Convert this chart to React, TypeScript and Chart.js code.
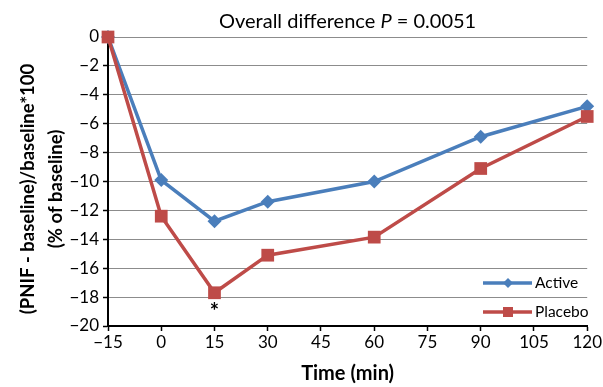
import React, { useEffect, useRef } from "react";
import { Chart, registerables } from "chart.js";

Chart.register(...registerables);

const times = [-15, 0, 15, 30, 60, 90, 120];
const activeValues = [0, -9.9, -12.75, -11.4, -10.0, -6.9, -4.8];
const placeboValues = [0, -12.4, -17.7, -15.1, -13.85, -9.1, -5.5];
const seriesNames = ["Active", "Placebo"];
const titleMain = "Overall difference ";
const titleItalic = "P";
const titleTail = " = 0.0051";
const yTitleLines = ["(PNIF - baseline)/baseline*100", "(% of baseline)"];
const xTitle = "Time (min)";
const starLabel = "*";
const starTime = 15;

const BLUE = "#4A7EBB";
const RED = "#BE4B48";
const FONT = "Lato, 'Open Sans', sans-serif";

export default function App() {
  const ref = useRef<HTMLCanvasElement | null>(null);
  useEffect(() => {
    document.body.style.margin = "0";
    const canvas = ref.current!;
    const decor = {
      id: "decor",
      afterDraw(chart: any) {
        const ctx = chart.ctx;
        const xs = chart.scales.x;
        const ys = chart.scales.y;
        const ca = chart.chartArea;
        ctx.save();
        ctx.fillStyle = "#000";
        // title
        const tf = `20px ${FONT}`;
        const tfi = `italic 20px ${FONT}`;
        ctx.font = tf;
        const w1 = ctx.measureText(titleMain).width;
        ctx.font = tfi;
        const w2 = ctx.measureText(titleItalic).width;
        ctx.font = tf;
        const w3 = ctx.measureText(titleTail).width;
        const tx = (ca.left + ca.right) / 2 - (w1 + w2 + w3) / 2;
        ctx.textBaseline = "middle";
        ctx.textAlign = "left";
        ctx.fillText(titleMain, tx, 22);
        ctx.font = tfi;
        ctx.fillText(titleItalic, tx + w1, 22);
        ctx.font = tf;
        ctx.fillText(titleTail, tx + w1 + w2, 22);
        // y title
        ctx.save();
        ctx.translate(28, 189);
        ctx.rotate(-Math.PI / 2);
        ctx.font = `bold 18.5px ${FONT}`;
        ctx.textAlign = "center";
        ctx.fillText(yTitleLines[0], 0, 0);
        ctx.fillText(yTitleLines[1], 0, 28);
        ctx.restore();
        // x title
        ctx.font = `bold 20px ${FONT}`;
        ctx.textAlign = "center";
        ctx.fillText(xTitle, (ca.left + ca.right) / 2, 374);
        // asterisk
        const idx = times.indexOf(starTime);
        ctx.font = `bold 22px ${FONT}`;
        ctx.fillText(starLabel, xs.getPixelForValue(starTime), ys.getPixelForValue(placeboValues[idx]) + 19);
        // legend
        const items = [
          { name: seriesNames[0], color: BLUE, style: "diamond", y: 283 },
          { name: seriesNames[1], color: RED, style: "square", y: 312 },
        ];
        for (const it of items) {
          ctx.strokeStyle = it.color;
          ctx.lineWidth = 3.5;
          ctx.beginPath();
          ctx.moveTo(483, it.y);
          ctx.lineTo(532, it.y);
          ctx.stroke();
          ctx.fillStyle = it.color;
          ctx.beginPath();
          if (it.style === "diamond") {
            ctx.moveTo(508, it.y - 5);
            ctx.lineTo(513, it.y);
            ctx.lineTo(508, it.y + 5);
            ctx.lineTo(503, it.y);
            ctx.closePath();
          } else {
            ctx.rect(503, it.y - 5, 10, 10);
          }
          ctx.fill();
          ctx.fillStyle = "#000";
          ctx.font = `15.5px ${FONT}`;
          ctx.textAlign = "left";
          ctx.fillText(it.name, 535, it.y);
        }
        ctx.restore();
      },
    };
    const chart = new Chart(canvas, {
      type: "line",
      data: {
        datasets: [
          {
            label: seriesNames[0],
            data: times.map((t, i) => ({ x: t, y: activeValues[i] })),
            borderColor: BLUE,
            backgroundColor: BLUE,
            borderWidth: 3.5,
            pointStyle: "rectRot",
            pointRadius: 7,
            pointBorderWidth: 0,
            clip: false,
            order: 1,
          },
          {
            label: seriesNames[1],
            data: times.map((t, i) => ({ x: t, y: placeboValues[i] })),
            borderColor: RED,
            backgroundColor: RED,
            borderWidth: 3.5,
            pointStyle: "rect",
            pointRadius: 9,
            pointBorderWidth: 0,
            clip: false,
            order: 0,
          },
        ],
      },
      options: {
        animation: false,
        responsive: false,
        layout: { padding: { top: 37, right: 14, left: 0, bottom: 0 } },
        plugins: { legend: { display: false }, title: { display: false }, tooltip: { enabled: false } },
        scales: {
          x: {
            type: "linear",
            min: -15,
            max: 120,
            afterBuildTicks: (s: any) => {
              const t = [];
              for (let v = -15; v <= 120; v += 15) t.push({ value: v });
              s.ticks = t;
            },
            afterFit: (s: any) => {
              s.height = 61;
            },
            ticks: {
              color: "#000",
              font: { family: FONT, size: 17 },
              padding: 1,
              maxRotation: 0,
              callback: (v: any) => String(v).replace("-", "\u2212"),
            },
            grid: { drawOnChartArea: false, drawTicks: true, tickLength: 5, tickColor: "#000", tickWidth: 1.5 },
            border: { color: "#000", width: 2 },
          },
          y: {
            min: -20,
            max: 0,
            ticks: {
              stepSize: 2,
              color: "#000",
              font: { family: FONT, size: 17 },
              padding: 4,
              callback: (v: any) => String(v).replace("-", "\u2212"),
            },
            afterFit: (s: any) => {
              s.width = 108;
            },
            grid: { color: "#8c8c8c", lineWidth: 1, drawTicks: true, tickLength: 5, tickColor: "#000", tickWidth: 1.5 },
            border: { color: "#000", width: 2 },
          },
        },
      },
      plugins: [decor],
    } as any);
    return () => chart.destroy();
  }, []);
  return (
    <div style={{ width: 603, height: 387 }}>
      <canvas ref={ref} width={603} height={387} style={{ display: "block" }} />
    </div>
  );
}
